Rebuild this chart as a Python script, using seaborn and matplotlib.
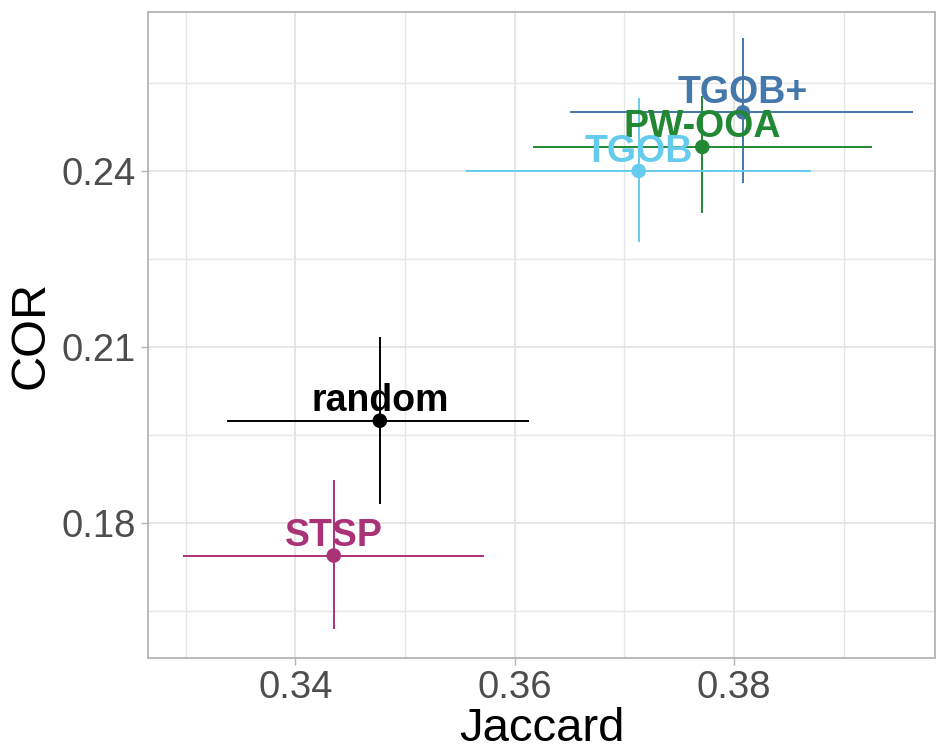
import matplotlib
matplotlib.use("Agg")
import matplotlib.pyplot as plt
from matplotlib.ticker import MultipleLocator, FormatStrFormatter
import seaborn as sns
import pandas as pd

# Mean scores with interval bounds for each method
methods = ["TGOB+", "PW-OOA", "TGOB", "random", "STSP"]
jaccard = [0.3808, 0.3771, 0.3713, 0.3477, 0.3435]
jaccard_lo = [0.3650, 0.3617, 0.3556, 0.3338, 0.3298]
jaccard_hi = [0.3963, 0.3926, 0.3870, 0.3613, 0.3572]
cor = [0.2500, 0.2441, 0.2400, 0.1974, 0.1744]
cor_lo = [0.2380, 0.2329, 0.2279, 0.1832, 0.1618]
cor_hi = [0.2626, 0.2528, 0.2524, 0.2117, 0.1873]
colors = ["#4477AA", "#228833", "#66CCEE", "#000000", "#AA3377"]

df = pd.DataFrame({
    "method": methods, "Jaccard": jaccard, "COR": cor,
    "j_lo": jaccard_lo, "j_hi": jaccard_hi,
    "c_lo": cor_lo, "c_hi": cor_hi,
})
palette = dict(zip(methods, colors))

sns.set_theme(style="whitegrid")
plt.rcParams["font.family"] = ["Liberation Sans", "DejaVu Sans"]

fig, ax = plt.subplots(figsize=(9.38, 7.54), dpi=100)
fig.subplots_adjust(left=0.1578, right=0.9968, top=0.9841, bottom=0.1273)

# error bars in both directions
for _, r in df.iterrows():
    c = palette[r["method"]]
    ax.hlines(r["COR"], r["j_lo"], r["j_hi"], color=c, lw=1.4, zorder=2)
    ax.vlines(r["Jaccard"], r["c_lo"], r["c_hi"], color=c, lw=1.4, zorder=2)

sns.scatterplot(data=df, x="Jaccard", y="COR", hue="method", palette=palette,
                s=110, edgecolor="none", legend=False, ax=ax, zorder=3)

for _, r in df.iterrows():
    ax.annotate(r["method"], (r["Jaccard"], r["COR"]), xytext=(0, 14),
                textcoords="offset points", ha="center", va="center",
                fontsize=27, fontweight="bold", color=palette[r["method"]],
                zorder=4)

ax.set_xlim(0.32657, 0.39831)
ax.set_ylim(0.15692, 0.26712)
ax.xaxis.set_major_locator(MultipleLocator(0.02))
ax.xaxis.set_minor_locator(MultipleLocator(0.01))
ax.yaxis.set_major_locator(MultipleLocator(0.03))
ax.yaxis.set_minor_locator(MultipleLocator(0.015))
ax.xaxis.set_major_formatter(FormatStrFormatter("%.2f"))
ax.yaxis.set_major_formatter(FormatStrFormatter("%.2f"))

ax.grid(which="major", color="#DEDEDE", lw=1.1)
ax.grid(which="minor", color="#E6E6E6", lw=1.0)
ax.set_axisbelow(True)
for sp in ax.spines.values():
    sp.set_color("#B3B3B3")
    sp.set_linewidth(1.3)

ax.tick_params(which="major", length=5, width=1.0, color="#B3B3B3",
               labelsize=27.5, labelcolor="#4D4D4D", pad=3.5, bottom=True, left=True)
ax.tick_params(which="minor", length=0)
ax.set_xlabel("Jaccard", fontsize=34, color="black", labelpad=0.5)
ax.set_ylabel("COR", fontsize=35, color="black", labelpad=6)

fig.savefig("out.png", dpi=100, facecolor="white")
